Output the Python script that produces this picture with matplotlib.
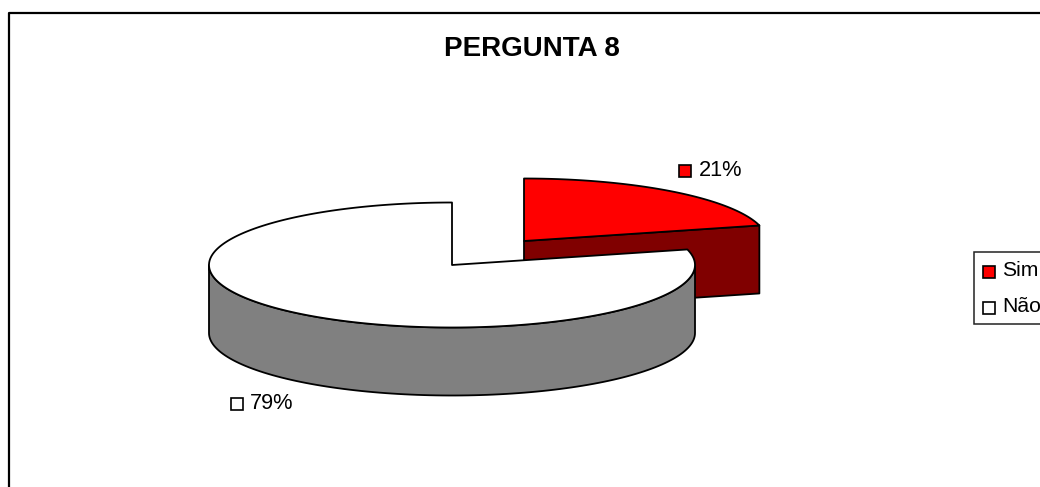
import numpy as np
import matplotlib
matplotlib.use("Agg")
import matplotlib.pyplot as plt
from matplotlib.patches import Polygon, Rectangle

plt.rcParams['font.family'] = ['Liberation Sans', 'DejaVu Sans']

title = "PERGUNTA 8"
categories = ["Sim", "Não"]
values = [21, 79]
top_colors = ["#ff0000", "#ffffff"]
side_colors = ["#800000", "#808080"]

W, H = 1040, 487
fig = plt.figure(figsize=(W / 100, H / 100), dpi=100, facecolor="white")
ax = fig.add_axes([0, 0, 1, 1])
ax.set_xlim(0, W)
ax.set_ylim(H, 0)
ax.axis("off")

RX, RY, DEPTH = 243, 62.5, 68
LW = 1.3


def pt(c, a):
    """a: degrees clockwise from 12 o'clock"""
    a = np.radians(a)
    return np.column_stack([c[0] + RX * np.sin(a), c[1] - RY * np.cos(a)])


# frame
ax.plot([8.5, 8.5, W + 2], [H + 2, 12.5, 12.5], color="black", lw=1.6, solid_capstyle="butt")

ax.text(531.5, 48.5, title, ha="center", va="center", fontsize=20, fontweight="bold", color="black")

total = sum(values)
end_red = 360 * values[0] / total

# slice Sim
c0 = (524, 241)
arc0 = pt(c0, np.linspace(0, end_red, 80))
e = arc0[-1]
ax.add_patch(Polygon([c0, e, (e[0], e[1] + DEPTH), (c0[0], c0[1] + DEPTH)], closed=True,
                     fc=side_colors[0], ec="black", lw=LW, joinstyle="round"))
ax.add_patch(Polygon(np.vstack([[c0], arc0]), closed=True, fc=top_colors[0], ec="black", lw=LW, joinstyle="round"))

# slice Não
c1 = (452, 265)
wall = pt(c1, np.linspace(90, 270, 120))
wall_low = wall + np.array([0, DEPTH])
ax.add_patch(Polygon(np.vstack([wall, wall_low[::-1]]), closed=True, fc=side_colors[1], ec="black", lw=LW,
                     joinstyle="round"))
arc1 = pt(c1, np.linspace(end_red, 360, 240))
ax.add_patch(Polygon(np.vstack([[c1], arc1]), closed=True, fc=top_colors[1], ec="black", lw=LW, joinstyle="round"))

# data labels
label_pos = [(679, 165, 699, 170.5), (231, 398, 250, 403.5)]
for v, col, (kx, ky, tx, ty) in zip(values, top_colors, label_pos):
    ax.add_patch(Rectangle((kx, ky), 12, 12, fc=col, ec="black", lw=1.2))
    ax.text(tx, ty, f"{v}%", ha="left", va="center", fontsize=15.7, color="black")

# legend
ax.add_patch(Rectangle((973.5, 251.5), 80, 72, fc="white", ec="#222222", lw=1.1))
legend_pos = [(266, 1002, 270), (302, 1002, 307)]
for cat, col, (ky, tx, ty) in zip(categories, top_colors, legend_pos):
    ax.add_patch(Rectangle((983, ky), 11.5, 11.5, fc=col, ec="black", lw=1.2))
    ax.text(tx, ty, cat, ha="left", va="center", fontsize=15.2, color="black")

fig.savefig("out.png", dpi=100, facecolor="white")
